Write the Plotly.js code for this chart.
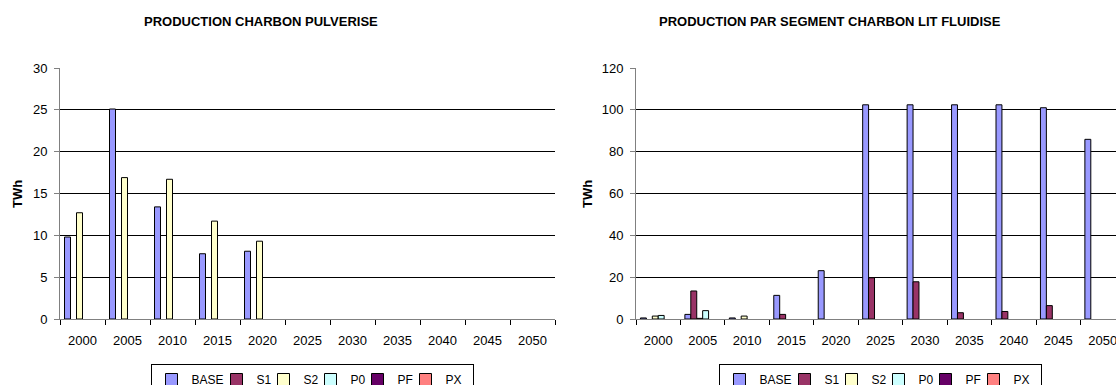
<!DOCTYPE html>
<html>
<head>
<meta charset="utf-8">
<script src="https://cdn.plot.ly/plotly-3.0.1.min.js"></script>
<style>
html,body{margin:0;padding:0;background:#fff;overflow:hidden;}
#chart{width:1116px;height:396px;}
</style>
</head>
<body>
<div id="chart"></div>
<script>
// ---- Data ----
const categories = ['2000','2005','2010','2015','2020','2025','2030','2035','2040','2045','2050'];
const seriesNames = ['BASE','S1','S2','P0','PF','PX'];
const seriesColors = ['#9999FF','#993366','#FFFFCC','#CCFFFF','#660066','#FF8080'];

// Chart 1: PRODUCTION CHARBON PULVERISE (TWh)
const pulvBASE = [9.8, 25.1, 13.4, 7.8, 8.1, 0, 0, 0, 0, 0, 0];
const pulvS1   = [0, 0, 0, 0, 0, 0, 0, 0, 0, 0, 0];
const pulvS2   = [12.7, 16.9, 16.7, 11.7, 9.3, 0, 0, 0, 0, 0, 0];
const pulvP0   = [0, 0, 0, 0, 0, 0, 0, 0, 0, 0, 0];
const pulvPF   = [0, 0, 0, 0, 0, 0, 0, 0, 0, 0, 0];
const pulvPX   = [0, 0, 0, 0, 0, 0, 0, 0, 0, 0, 0];

// Chart 2: PRODUCTION PAR SEGMENT CHARBON LIT FLUIDISE (TWh)
const litBASE = [0.5, 2.2, 0.5, 11.3, 23.1, 102.4, 102.4, 102.4, 102.4, 101.0, 85.9];
const litS1   = [0, 13.4, 0, 2.2, 0, 19.7, 17.8, 3.0, 3.6, 6.4, 0];
const litS2   = [1.4, 0.3, 1.4, 0, 0, 0, 0, 0, 0, 0, 0];
const litP0   = [1.7, 4.0, 0, 0, 0, 0, 0, 0, 0, 0, 0];
const litPF   = [0, 0, 0, 0, 0, 0, 0, 0, 0, 0, 0];
const litPX   = [0, 0, 0, 0, 0, 0, 0, 0, 0, 0, 0];

const title1 = 'PRODUCTION CHARBON PULVERISE';
const title2 = 'PRODUCTION PAR SEGMENT CHARBON LIT FLUIDISE';
const yTitle = 'TWh';

// ---- Styles ----
const FONT = 'Liberation Sans, Arial, sans-serif';
// per-entry legend widths (px) to keep entries compact like the original
const legendEntryWidths = [20, 2, 2, 2, 3, 22];

// ---- Build traces ----
const pulvSeries = [pulvBASE, pulvS1, pulvS2, pulvP0, pulvPF, pulvPX];
const litSeries = [litBASE, litS1, litS2, litP0, litPF, litPX];
const hideZero = v => (v === 0 ? null : v);
const traces = [];
function addTraces(list, xa, ya, leg) {
  list.forEach((vals, i) => {
    traces.push({
      type: 'bar', x: categories, y: vals.map(hideZero), name: seriesNames[i],
      xaxis: xa, yaxis: ya, legend: leg, legendwidth: legendEntryWidths[i],
      marker: {color: seriesColors[i], line: {color: '#000', width: 1}},
      hoverinfo: 'x+y+name'
    });
  });
}
addTraces(pulvSeries, 'x', 'y', 'legend');
addTraces(litSeries, 'x2', 'y2', 'legend2');

const W = 1116, H = 396;
const plotTop = 68, plotBottom = 319;
const xAxisCommon = {
  type: 'category', tickson: 'boundaries', ticks: 'outside', ticklen: 5,
  tickcolor: '#000', tickwidth: 1, ticklabelstandoff: 9,
  showline: true, linecolor: '#808080', linewidth: 1,
  showgrid: false, zeroline: false,
  tickfont: {family: FONT, size: 13, color: '#000'}
};
const yAxisCommon = {
  ticks: 'outside', ticklen: 5, tickcolor: '#808080', tickwidth: 1, ticklabelstandoff: 4,
  showline: true, linecolor: '#808080', linewidth: 1,
  showgrid: true, gridcolor: '#000', gridwidth: 1, zeroline: false,
  tickfont: {family: FONT, size: 13, color: '#000'}
};
const legendCommon = {
  orientation: 'h', xanchor: 'center', yanchor: 'top',
  y: (plotBottom - 364) / (plotBottom - plotTop),
  bordercolor: '#000', borderwidth: 1, bgcolor: '#fff',
  font: {family: FONT, size: 12, color: '#000'},
  itemwidth: 30, traceorder: 'normal', entrywidthmode: 'pixels'
};

const layout = {
  width: W, height: H,
  margin: {l: 0, r: 0, t: plotTop, b: H - plotBottom, autoexpand: false},
  paper_bgcolor: '#fff', plot_bgcolor: '#fff',
  barmode: 'group', bargap: 0.2, bargroupgap: 0,
  font: {family: FONT, size: 13, color: '#000'},
  xaxis: Object.assign({}, xAxisCommon, {domain: [60 / W, 555 / W], anchor: 'y', range: [-0.5, 10.5]}),
  yaxis: Object.assign({}, yAxisCommon, {domain: [0, 1], anchor: 'x', range: [0, 30], dtick: 5}),
  xaxis2: Object.assign({}, xAxisCommon, {domain: [636 / W, 1], anchor: 'y2', range: [-0.5, 10.3]}),
  yaxis2: Object.assign({}, yAxisCommon, {domain: [0, 1], anchor: 'x2', range: [0, 120], dtick: 20}),
  legend: Object.assign({}, legendCommon, {x: 312 / W}),
  legend2: Object.assign({}, legendCommon, {x: 880 / W}),
  annotations: [
    {text: '<b>' + title1 + '</b>', xref: 'paper', yref: 'paper', x: 261 / W, y: (plotBottom - 22) / (plotBottom - plotTop),
     xanchor: 'center', yanchor: 'middle', showarrow: false, font: {family: FONT, size: 13, color: '#000'}},
    {text: '<b>' + title2 + '</b>', xref: 'paper', yref: 'paper', x: 830 / W, y: (plotBottom - 22) / (plotBottom - plotTop),
     xanchor: 'center', yanchor: 'middle', showarrow: false, font: {family: FONT, size: 13, color: '#000'}},
    {text: '<b>' + yTitle + '</b>', xref: 'paper', yref: 'paper', x: 17 / W, y: (plotBottom - 194) / (plotBottom - plotTop),
     xanchor: 'center', yanchor: 'middle', textangle: -90, showarrow: false, font: {family: FONT, size: 13, color: '#000'}},
    {text: '<b>' + yTitle + '</b>', xref: 'paper', yref: 'paper', x: 587 / W, y: (plotBottom - 194) / (plotBottom - plotTop),
     xanchor: 'center', yanchor: 'middle', textangle: -90, showarrow: false, font: {family: FONT, size: 13, color: '#000'}}
  ]
};

Plotly.newPlot('chart', traces, layout, {displayModeBar: false, staticPlot: true});
</script>
</body>
</html>
